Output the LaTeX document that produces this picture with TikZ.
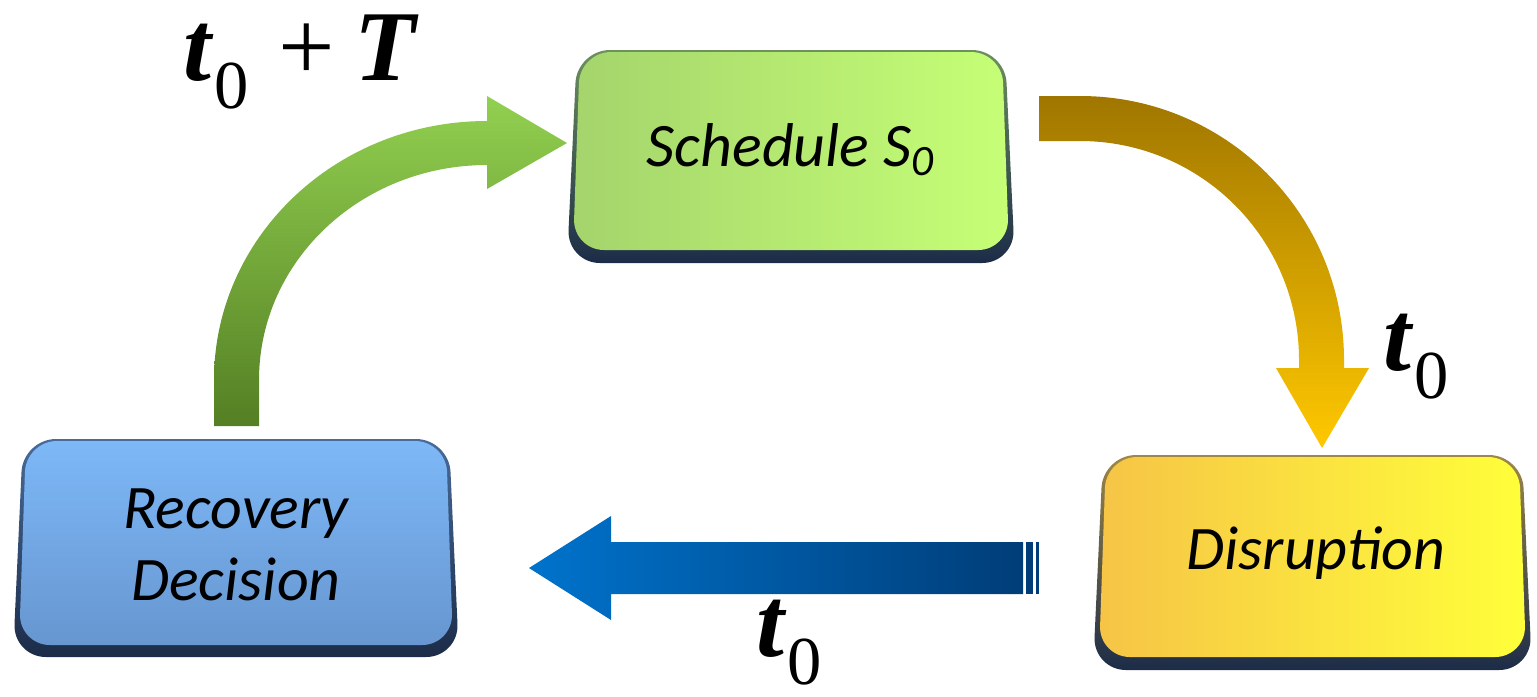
\documentclass[tikz,border=0pt]{standalone}
\usepackage{fontspec}
\setmainfont{Liberation Serif}
\newfontfamily\boxfont{Carlito}
\usetikzlibrary{calc}

% colours
\definecolor{grnDark}{HTML}{547F24}
\definecolor{grnLight}{HTML}{92D050}
\definecolor{orgDark}{HTML}{A07600}
\definecolor{orgLight}{HTML}{FFC800}
\definecolor{bluLight}{HTML}{0073CC}
\definecolor{bluDark}{HTML}{003D78}
\definecolor{edgeNavy}{HTML}{1C2C48}
\definecolor{schedA}{HTML}{A4D46C}
\definecolor{schedB}{HTML}{C6FF76}
\definecolor{recA}{HTML}{7DB8F7}
\definecolor{recB}{HTML}{6796D0}
\definecolor{disA}{HTML}{F6C446}
\definecolor{disB}{HTML}{FFFF3A}

\tikzset{
  boxedge/.style={rounded corners=0.33cm, top color=#1, bottom color=edgeNavy, draw=none},
  boxtext/.style={font=\boxfont\itshape\fontsize{17.6}{20.5}\selectfont, align=center, inner sep=0pt},
  timelbl/.style={font=\fontsize{28.5}{30}\selectfont, anchor=base west, inner sep=0pt},
}
% t with subscript zero
\newcommand{\tzero}{\textbf{\textit{t}}\raisebox{-8pt}{\fontsize{19.5}{20}\selectfont 0}}

\begin{document}
\begin{tikzpicture}[x=0.01cm, y=-0.01cm]
\useasboundingbox (0,0) rectangle (1537,696);

% ---------- Schedule S0 ----------
\path[boxedge=schedA!60!edgeNavy] (577,50) -- (1005,50) -- (1015,263) -- (567,263) -- cycle;
\path[rounded corners=0.31cm, left color=schedA, right color=schedB]
  (580,52) -- (1002,52) -- (1009,250) -- (573,250) -- cycle;
\node[boxtext] (sched) at (791,150) {Schedule S\textsubscript{0}};

% ---------- Recovery Decision ----------
\path[boxedge=recB!60!edgeNavy] (23,439) -- (449,439) -- (459,657) -- (13,657) -- cycle;
\path[rounded corners=0.31cm, top color=recA, bottom color=recB]
  (26,441) -- (446,441) -- (453,645) -- (19,645) -- cycle;
\node[boxtext] (recov) at (236,545) {Recovery\\Decision};

% ---------- Disruption ----------
\path[boxedge=disA!60!edgeNavy] (1103,455) -- (1522,455) -- (1532,670) -- (1093,670) -- cycle;
\path[rounded corners=0.31cm, left color=disA, right color=disB]
  (1106,457) -- (1519,457) -- (1526,657) -- (1099,657) -- cycle;
\node[boxtext] (disr) at (1316,553) {Disruption};

% ---------- green curved arrow: Recovery -> Schedule ----------
\shade[top color=grnLight, bottom color=grnDark]
  (214,426) -- (214,380)
  .. controls (214,237) and (336,121) .. (487,121)
  -- (487,96) -- (567,143) -- (487,189) -- (487,165)
  .. controls (361,165) and (259,261) .. (259,380)
  -- (259,426) -- cycle;

% ---------- orange curved arrow: Schedule -> Disruption ----------
\shade[top color=orgDark, bottom color=orgLight]
  (1039,96) -- (1080,96)
  .. controls (1226,96) and (1344,214) .. (1344,360)
  -- (1344,368) -- (1369,368) -- (1322,448) -- (1276,368) -- (1299,368) -- (1299,360)
  .. controls (1299,239) and (1201,141) .. (1080,141)
  -- (1039,141) -- cycle;

% ---------- blue straight arrow: Disruption -> Recovery ----------
\shade[left color=bluLight, right color=bluDark]
  (1023,542) -- (611,542) -- (611,516) -- (529,568) -- (611,620) -- (611,594) -- (1023,594) -- cycle;
\fill[bluDark] (1026,542) rectangle (1033,594);
\fill[bluDark] (1036,542) rectangle (1039,594);

% ---------- time labels ----------
\node[timelbl] (lblT) at (183,80) {\tzero\hspace{0.3em}+\hspace{0.2em}\textbf{\textit{T}}};
\node[timelbl] (lblR) at (1383,370) {\tzero};
\node[timelbl] (lblB) at (756,656) {\tzero};
\end{tikzpicture}
\end{document}
